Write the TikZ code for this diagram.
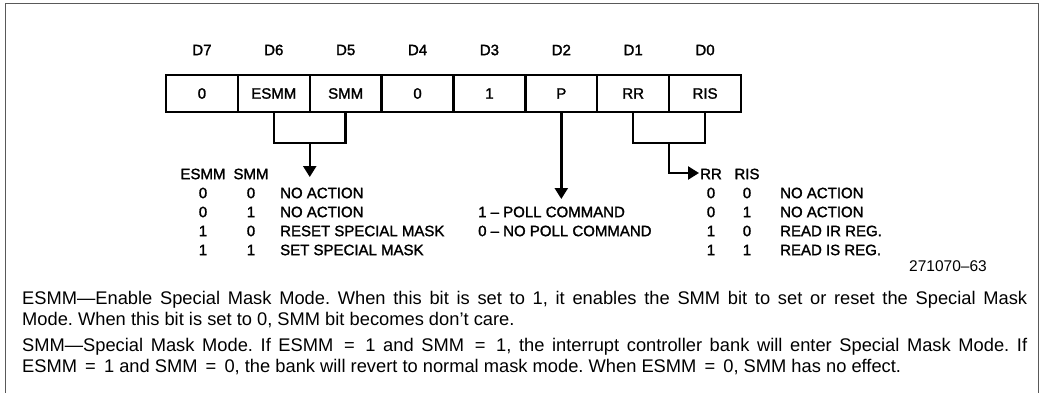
\documentclass[tikz,border=0pt]{standalone}
\usepackage{fontspec}
\setmainfont{Liberation Sans}
\usetikzlibrary{arrows.meta}
\font\diagf="Liberation Sans:embolden=1.6" at 15pt
\begin{document}
\begin{tikzpicture}[x=1pt,y=-1pt,
  diag/.style={font=\diagf, inner sep=0pt},
  cell/.style={draw, line width=2.4pt, minimum width=71.875pt, minimum height=37pt, inner sep=0pt, font=\diagf},
  conn/.style={line width=2.4pt},
  arr/.style={line width=2.4pt, -{Triangle[width=13pt,length=11pt]}},
  para/.style={anchor=north west, inner sep=0pt, text width=1005pt, align=justify, font=\fontsize{18.3}{21}\selectfont\frenchspacing},
  frame/.style={line width=1pt, draw=black!65}
]
\useasboundingbox (0,0) rectangle (1041,393);
% frame
\draw[frame] (5,393) -- (5,4) -- (1038,4) -- (1038,393);

% bit labels
\foreach \i/\lab in {0/D7,1/D6,2/D5,3/D4,4/D3,5/D2,6/D1,7/D0}
  \node[diag] (h\i) at ({166+71.875*(\i+0.5)},50) {\lab};

% register cells
\node[cell] (c7) at (201.94,93.5) {0};
\node[cell] (c6) at (273.81,93.5) {ESMM};
\node[cell] (c5) at (345.69,93.5) {SMM};
\node[cell] (c4) at (417.56,93.5) {0};
\node[cell] (c3) at (489.44,93.5) {1};
\node[cell] (c2) at (561.31,93.5) {P};
\node[cell] (c1) at (633.19,93.5) {RR};
\node[cell] (c0) at (705.06,93.5) {RIS};

% left bracket
\coordinate (lm) at (309.75,143);
\coordinate (ltip) at (309.75,177);
\draw[conn] (c6.south) -- (273.81,143) -- (345.69,143) -- (c5.south);
\draw[arr] (lm) -- (ltip);

% poll arrow
\coordinate (ptip) at (561.31,199);
\draw[arr] (c2.south) -- (ptip);

% right bracket
\coordinate (rm) at (669.12,143);
\coordinate (rtip) at (699,173);
\draw[conn] (c1.south) -- (633.19,143) -- (705.06,143) -- (c0.south);
\draw[arr] (rm) |- (rtip);

% left table
\node[diag] (lh1) at (203,174) {ESMM};
\node[diag] (lh2) at (251,174) {SMM};
\foreach \y/\a/\b/\t [count=\k] in {193/0/0/NO ACTION,212/0/1/NO ACTION,231/1/0/RESET SPECIAL MASK,250/1/1/SET SPECIAL MASK}{
  \node[diag] (la\k) at (203,\y) {\a};
  \node[diag] (lb\k) at (251,\y) {\b};
  \node[diag, anchor=west] (lt\k) at (280,\y) {\t};
}

% poll text
\node[diag, anchor=west] (p1) at (478,212) {1 – POLL COMMAND};
\node[diag, anchor=west] (p0) at (478,231) {0 – NO POLL COMMAND};

% right table
\node[diag] (rh1) at (711,174) {RR};
\node[diag] (rh2) at (747,174) {RIS};
\foreach \y/\a/\b/\t [count=\k] in {193/0/0/NO ACTION,212/0/1/NO ACTION,231/1/0/READ IR REG.,250/1/1/READ IS REG.}{
  \node[diag] (ra\k) at (711,\y) {\a};
  \node[diag] (rb\k) at (747,\y) {\b};
  \node[diag, anchor=west] (rt\k) at (780,\y) {\t};
}

% figure number
\node[anchor=east, inner sep=0pt, font=\fontsize{15.5}{17}\selectfont] (fig) at (987,266) {271070--63};

% paragraphs
\node[para] (t1) at (22,291) {ESMM---Enable Special Mask Mode. When this bit is set to 1, it enables the SMM bit to set or reset the Special Mask\linebreak Mode. When this bit is set to 0, SMM bit becomes don’t care.};
\node[para] (t2) at (22,338) {SMM---Special Mask Mode. If ESMM\, = \,1 and SMM\, = \,1, the interrupt controller bank will enter Special Mask Mode. If\linebreak ESMM\, = \,1 and SMM\, = \,0, the bank will revert to normal mask mode. When ESMM\, = \,0, SMM has no effect.};
\end{tikzpicture}
\end{document}
